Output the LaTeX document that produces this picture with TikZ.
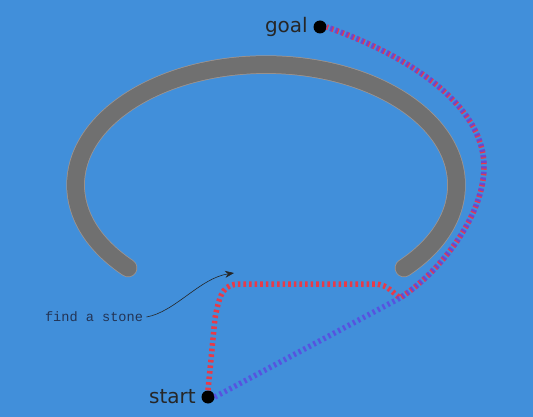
\documentclass[tikz,border=0pt]{standalone}
\usepackage{fontspec}
\setsansfont{DejaVu Sans}
\setmonofont{Liberation Mono}
\definecolor{mybg}{RGB}{65,143,218}
\definecolor{mywall}{RGB}{112,112,112}
\definecolor{myedge}{RGB}{160,150,145}
\definecolor{myred}{RGB}{232,58,72}
\definecolor{myblue}{RGB}{92,70,225}
\definecolor{mytext}{RGB}{35,52,85}
\usetikzlibrary{arrows.meta}

\begin{document}
\begin{tikzpicture}[x=1pt,y=-1pt,
    dot/.style={draw=none,circle,fill=black,minimum size=13pt,inner sep=0pt},
    tagtext/.style={text=black!85,font=\sffamily\fontsize{20}{24}\selectfont},
    redpath/.style={myred,line width=5.5pt,dash pattern=on 2.6pt off 3pt},
    bluepath/.style={myblue,line width=5.5pt,dash pattern=on 2.4pt off 3.2pt,opacity=0.8},
    wall/.style={line cap=round,line width=#1}
    ]
    % background
    \fill[mybg] (0,0) rectangle (533,417);
    \useasboundingbox (0,0) rectangle (533,417);

    % the wall
    \draw[myedge,wall=18.5pt] (404,268) arc[start angle=43.6,end angle=-223.6,x radius=190.5,y radius=120.4];
    \draw[mywall,wall=17pt] (404,268) arc[start angle=43.6,end angle=-223.6,x radius=190.5,y radius=120.4];

    % start and goal
    \node[dot,label={[tagtext,label distance=2pt]left:start}] (start) at (208,397) {};
    \node[dot,label={[tagtext,label distance=2pt]left:goal}] (goal) at (320,27) {};
    \coordinate (merge) at (400,298);

    % the paths
    \draw[redpath] (start.north) -- (215,318) .. controls (220,292) and (224,284) .. (240,284)
        -- (376,284) .. controls (388,285) and (393,293) .. (merge)
        .. controls (440,272) and (485,215) .. (484,165)
        .. controls (483,110) and (420,60) .. (goal.east);
    \draw[bluepath] (start.east) -- (merge)
        .. controls (440,272) and (485,215) .. (484,165)
        .. controls (483,110) and (420,60) .. (goal.east);

    % the stone
    \node[text=mytext,font=\ttfamily\fontsize{13.6}{16}\selectfont] (stone) at (94,317) {find a stone};
    \coordinate (tip) at (234,273);
    \draw[-{Stealth[length=9pt,width=7pt]},black!85,semithick] (stone.east) .. controls (175,312) and (200,278) .. (tip);
\end{tikzpicture}
\end{document}
